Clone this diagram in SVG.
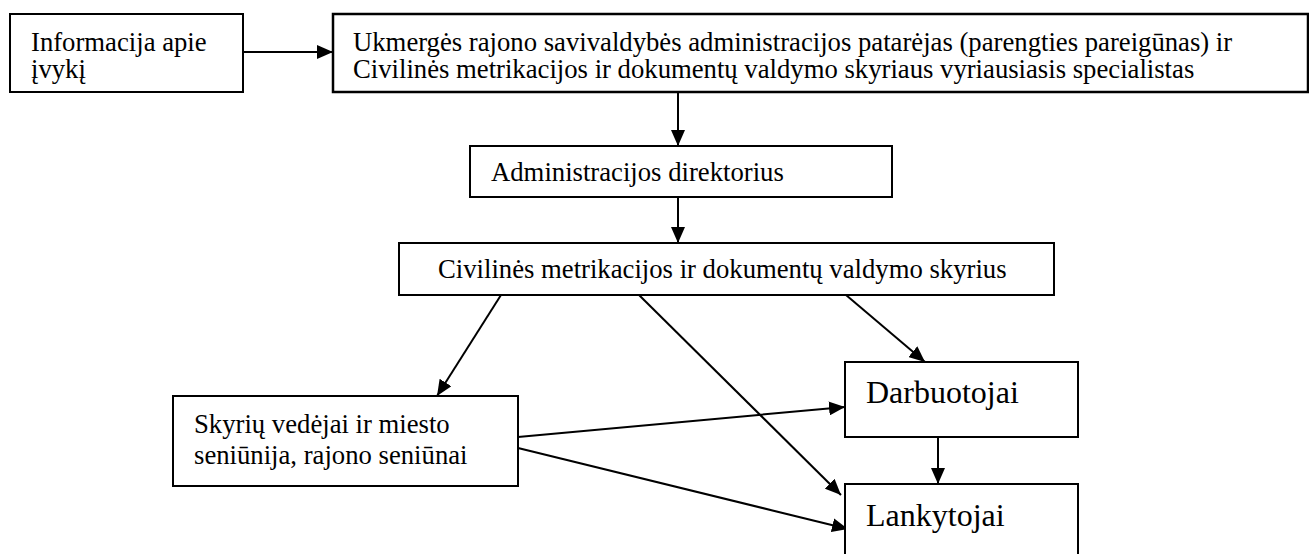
<svg xmlns="http://www.w3.org/2000/svg" width="1309" height="554" viewBox="0 0 1309 554">
<defs>
<style>
.box{fill:#fff;stroke:#000;stroke-width:2}
.t{font-family:"Liberation Serif","Times New Roman",serif;font-size:26.7px;fill:#000}
.tb{font-family:"Liberation Serif","Times New Roman",serif;font-size:32px;fill:#000}
.c{stroke:#000;stroke-width:2;fill:none;marker-end:url(#ah)}
</style>
<marker id="ah" viewBox="0 0 16 14" refX="16" refY="7" markerWidth="16" markerHeight="14" markerUnits="userSpaceOnUse" orient="auto">
<path d="M0,0 L16,7 L0,14 Z" fill="#000"/>
</marker>
</defs>
<rect width="1309" height="554" fill="#fff"/>
<g id="connectors">
<line class="c" x1="243" y1="52" x2="333" y2="52"/>
<line class="c" x1="678" y1="93" x2="678" y2="146"/>
<line class="c" x1="678" y1="197" x2="678" y2="243"/>
<line class="c" x1="501" y1="295" x2="437" y2="396"/>
<line class="c" x1="639" y1="295" x2="841" y2="495"/>
<line class="c" x1="846" y1="295" x2="925" y2="362"/>
<line class="c" x1="518" y1="437" x2="845" y2="407"/>
<line class="c" x1="518" y1="448" x2="848" y2="529"/>
<line class="c" x1="938" y1="437" x2="938" y2="484"/>
</g>
<g id="n-info">
<rect class="box" x="10" y="14" width="233" height="78"/>
<text class="t" x="31" y="51">Informacija apie</text>
<text class="t" x="31" y="78">įvykį</text>
</g>
<g id="n-patarejas">
<rect class="box" x="333" y="14" width="975" height="78" style="stroke-width:2.5"/>
<text class="t" x="353" y="51">Ukmergės rajono savivaldybės administracijos patarėjas (parengties pareigūnas) ir</text>
<text class="t" x="353" y="78">Civilinės metrikacijos ir dokumentų valdymo skyriaus vyriausiasis specialistas</text>
</g>
<g id="n-direktorius">
<rect class="box" x="470" y="146" width="422" height="51"/>
<text class="t" x="491" y="181">Administracijos direktorius</text>
</g>
<g id="n-skyrius">
<rect class="box" x="399" y="243" width="655" height="52"/>
<text class="t" x="438" y="278">Civilinės metrikacijos ir dokumentų valdymo skyrius</text>
</g>
<g id="n-vedejai">
<rect class="box" x="173" y="396" width="345" height="90"/>
<text class="t" x="194" y="433">Skyrių vedėjai ir miesto</text>
<text class="t" x="194" y="464">seniūnija, rajono seniūnai</text>
</g>
<g id="n-darbuotojai">
<rect class="box" x="845" y="362" width="233" height="75"/>
<text class="tb" x="866" y="403">Darbuotojai</text>
</g>
<g id="n-lankytojai">
<rect class="box" x="845" y="484" width="233" height="80"/>
<text class="tb" x="866" y="526">Lankytojai</text>
</g>
</svg>
